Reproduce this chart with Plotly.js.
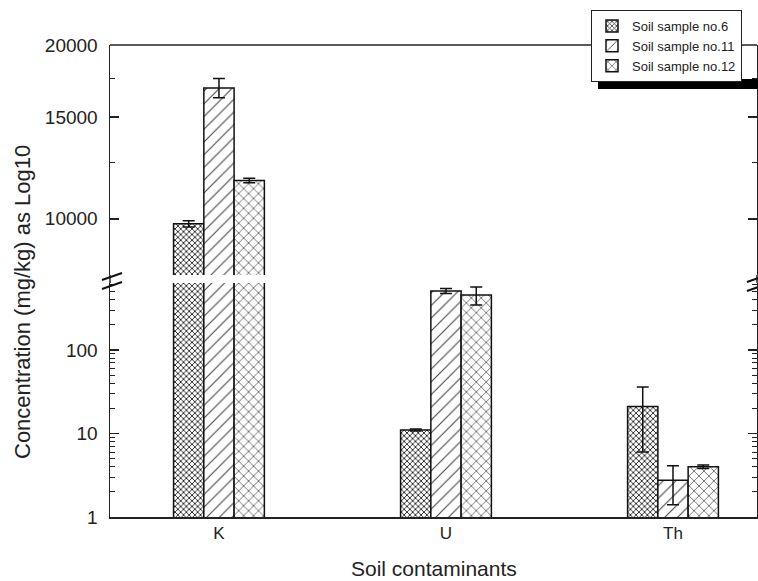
<!DOCTYPE html>
<html>
<head>
<meta charset="utf-8">
<script src="https://cdn.plot.ly/plotly-3.0.1.min.js"></script>
<style>html,body{margin:0;padding:0;background:#fff;}#chart{width:758px;height:581px;}</style>
</head>
<body>
<div id="chart"></div>
<script>
// ---- data ----
const categories = ['K', 'U', 'Th'];
const seriesNames = ['Soil sample no.6', 'Soil sample no.11', 'Soil sample no.12'];
const sample6 = [9800, 11, 21];
const sample6Err = [120, 0.3, 15];
const sample11 = [16850, 509, 2.75];
const sample11Err = [650, 35, 1.35];
const sample12 = [11650, 456, 4.0];
const sample12Err = [100, 110, 0.2];
const lowerTicks = [1, 10, 100];
const lowerMinor = [2,3,4,5,6,7,8,9,20,30,40,50,60,70,80,90,200,300,400,500,600];
const upperTicks = [10000, 15000, 20000];
const upperMinor = [12500, 17500];

// ---- styles ----
const patterns = [
  {shape: 'x', size: 4, solidity: 0.4, fgcolor: '#222', bgcolor: '#fff'},
  {shape: '/', size: 9, solidity: 0.12, fgcolor: '#444', bgcolor: '#fff'},
  {shape: 'x', size: 7, solidity: 0.18, fgcolor: '#333', bgcolor: '#fff'}
];
const values = [sample6, sample11, sample12];
const errs = [sample6Err, sample11Err, sample12Err];

const traces = [];
['y', 'y2'].forEach((ax, k) => {
  values.forEach((vals, i) => {
    traces.push({
      type: 'bar',
      name: seriesNames[i],
      x: categories,
      y: vals,
      yaxis: ax,
      showlegend: k === 0,
      marker: {color: '#fff', pattern: patterns[i], line: {color: '#111', width: 1.5}},
      error_y: {type: 'data', array: errs[i], visible: true, color: '#111', thickness: 1.5, width: 6}
    });
  });
});

// pixel helpers for paper coords
const L = 110, R = 757, T = 45, B = 517;
const px = x => (x - L) / (R - L);
const py = y => (B - y) / (B - T);

const font = {family: 'Liberation Sans, Arial, sans-serif', color: '#222'};

const layout = {
  width: 758, height: 581,
  margin: {l: L, r: 758 - R, t: T, b: 581 - B},
  paper_bgcolor: '#fff', plot_bgcolor: '#fff',
  barmode: 'group', bargap: 0.6, bargroupgap: 0,
  font: Object.assign({size: 16}, font),
  xaxis: {
    type: 'category', range: [-0.48, 2.37], showline: true, linecolor: '#222', linewidth: 1.5,
    ticks: '', showgrid: false, zeroline: false, tickfont: Object.assign({size: 17}, font)
  },
  yaxis: {
    type: 'log', domain: [0, py(283)], range: [0, Math.log10(633)],
    tickmode: 'array', tickvals: lowerTicks, ticktext: lowerTicks.map(String),
    ticks: 'inside', ticklen: 9, tickwidth: 1.5, tickcolor: '#222', ticklabelstandoff: 7,
    minor: {tickmode: 'array', tickvals: lowerMinor, ticks: 'inside', ticklen: 5, tickwidth: 1, tickcolor: '#222'},
    showline: true, linecolor: '#222', linewidth: 1.5, mirror: 'ticks',
    showgrid: false, zeroline: false, tickfont: Object.assign({size: 19}, font)
  },
  yaxis2: {
    type: 'log', domain: [py(275), 1], range: [Math.log10(7990), Math.log10(20000)],
    tickmode: 'array', tickvals: upperTicks, ticktext: upperTicks.map(String),
    ticks: 'inside', ticklen: 9, tickwidth: 1.5, tickcolor: '#222', ticklabelstandoff: 7,
    minor: {tickmode: 'array', tickvals: upperMinor, ticks: 'inside', ticklen: 5, tickwidth: 1, tickcolor: '#222'},
    showline: true, linecolor: '#222', linewidth: 1.5, mirror: 'ticks', anchor: 'x',
    showgrid: false, zeroline: false, tickfont: Object.assign({size: 19}, font)
  },
  legend: {
    x: px(591), y: py(10), xanchor: 'left', yanchor: 'top',
    bgcolor: '#fff', bordercolor: '#222', borderwidth: 1,
    font: Object.assign({size: 13}, font), tracegroupgap: 0, itemwidth: 30
  },
  shapes: [
    // top border
    {type: 'line', xref: 'paper', yref: 'paper', x0: 0, x1: 1, y0: 1, y1: 1, line: {color: '#222', width: 1.5}},
    // axis line across the break
    {type: 'line', xref: 'paper', yref: 'paper', x0: 0, x1: 0, y0: py(283), y1: py(275), line: {color: '#222', width: 1.5}},
    {type: 'line', xref: 'paper', yref: 'paper', x0: 1, x1: 1, y0: py(283), y1: py(275), line: {color: '#222', width: 1.5}},
    // break slashes left
    {type: 'line', xref: 'paper', yref: 'paper', x0: px(102), x1: px(122), y0: py(280), y1: py(273), line: {color: '#111', width: 2}},
    {type: 'line', xref: 'paper', yref: 'paper', x0: px(102), x1: px(122), y0: py(289), y1: py(282), line: {color: '#111', width: 2}},
    // break slashes right
    {type: 'line', xref: 'paper', yref: 'paper', x0: px(747), x1: px(767), y0: py(282), y1: py(275), line: {color: '#111', width: 2}},
    {type: 'line', xref: 'paper', yref: 'paper', x0: px(747), x1: px(767), y0: py(291), y1: py(284), line: {color: '#111', width: 2}},
    // legend shadow
    {type: 'rect', xref: 'paper', yref: 'paper', x0: px(598), x1: px(760), y0: py(89), y1: py(79), fillcolor: '#000', line: {width: 0}}
  ],
  annotations: [
    {text: 'Concentration (mg/kg) as Log10', xref: 'paper', yref: 'paper', x: px(22), y: py(302),
     xanchor: 'center', yanchor: 'middle', textangle: -90, showarrow: false, font: Object.assign({size: 22}, font)},
    {text: 'Soil contaminants', xref: 'paper', yref: 'paper', x: px(434), y: py(568),
     xanchor: 'center', yanchor: 'middle', showarrow: false, font: Object.assign({size: 21}, font)}
  ]
};

Plotly.newPlot('chart', traces, layout, {displayModeBar: false, staticPlot: true});
</script>
</body>
</html>
